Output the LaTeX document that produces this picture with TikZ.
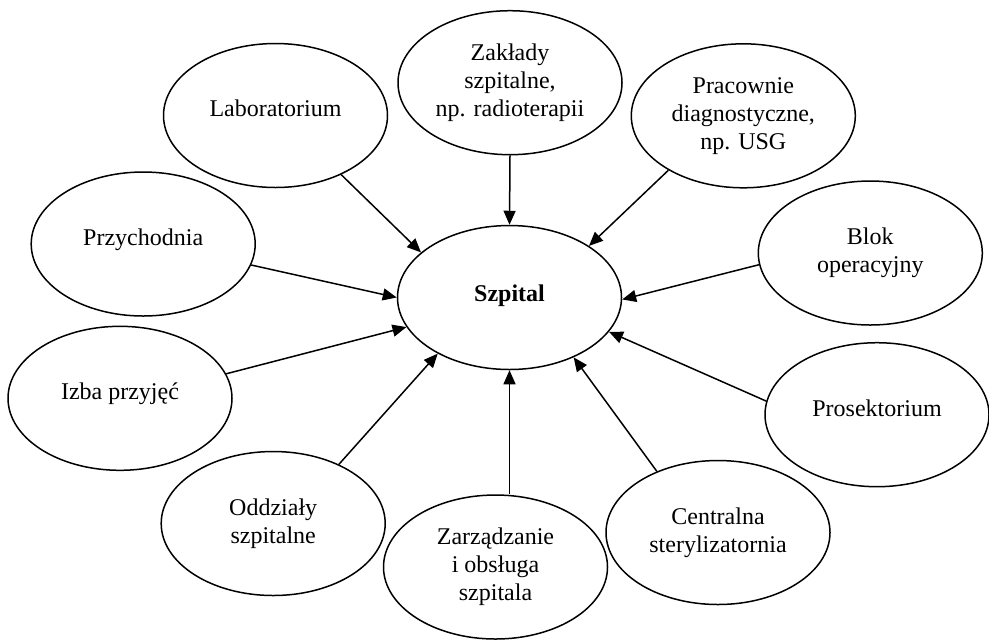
\documentclass[tikz,border=0pt]{standalone}
\usepackage{fontspec}
\setmainfont{Liberation Serif}
\usetikzlibrary{arrows.meta,shapes.geometric}

\begin{document}
\begin{tikzpicture}[x=0.5pt, y=-0.5pt,
  unit/.style={draw, ellipse, line width=0.75pt, minimum width=112pt, minimum height=72pt,
    inner sep=0pt, align=center, font=\fontsize{12}{14}\selectfont},
  oneline/.style={text depth=7pt},
  arr/.style={line width=0.75pt, -{Triangle[length=7pt, width=6pt]}}]
\useasboundingbox (0,0) rectangle (989,639);
\node [unit, font=\fontsize{12}{14}\selectfont\bfseries, text depth=4pt] (szp) at (509.5,297.5) {Szpital};
\node [unit, oneline] (lab) at (275.5,115.5) {Laboratorium};
\node [unit] (zak) at (510,82.7) {Zakłady\\szpitalne,\\np. radioterapii};
\node [unit] (pra) at (743.3,115.8) {Pracownie\\diagnostyczne,\\np. USG};
\node [unit] (blok) at (870.3,253) {Blok\\operacyjny};
\node [unit, oneline] (prz) at (143.2,244) {Przychodnia};
\node [unit, oneline] (izba) at (120,398.3) {Izba przyjęć};
\node [unit] (odd) at (273.2,523.5) {Oddziały\\szpitalne};
\node [unit] (zarz) at (495.5,567) {Zarządzanie\\i obsługa\\szpitala};
\node [unit] (cen) at (718,532.5) {Centralna\\sterylizatornia};
\node [unit, oneline] (pros) at (877,414.7) {Prosektorium};
\draw [arr] (lab.-42) -- (szp.153.3);
\draw [arr] (zak.south) -- (szp.north);
\draw [arr] (pra.216.7) -- (szp.33.1);
\draw [arr] (blok.186.2) -- (szp.-1.3);
\draw [arr] (prz.-11.9) -- (szp.180);
\draw [arr] (izba.13.1) -- (szp.196.9);
\draw [arr] (odd.42.7) -- (szp.218.9);
\draw [arr] (szp.south |- zarz.north) -- (szp.south);
\draw [arr] (cen.135.6) -- (szp.-43.9);
\draw [arr] (pros.173.2) -- (szp.-19.9);
\end{tikzpicture}
\end{document}
